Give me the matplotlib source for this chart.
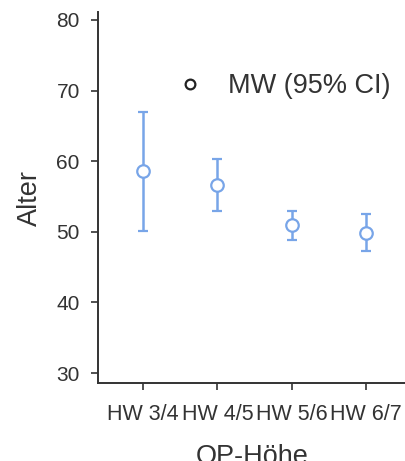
import matplotlib.pyplot as plt
from matplotlib.lines import Line2D

plt.rcParams['font.family'] = ['Liberation Sans', 'DejaVu Sans']

groups = ['HW 3/4', 'HW 4/5', 'HW 5/6', 'HW 6/7']
means = [58.6, 56.6, 50.9, 49.9]
ci_low = [50.1, 53.0, 48.9, 47.3]
ci_high = [67.0, 60.3, 52.9, 52.5]

blue = '#78a5e8'
dark = '#333333'

fig = plt.figure(figsize=(4.06, 4.61), dpi=100)
ax = fig.add_axes([0.241, 0.169, 0.759, 0.805])

x = list(range(len(groups)))
err = [[m - lo for m, lo in zip(means, ci_low)],
       [hi - m for m, hi in zip(means, ci_high)]]
ax.errorbar(x, means, yerr=err, fmt='o', color=blue, ecolor=blue,
            elinewidth=1.8, capsize=3.5, capthick=1.8,
            markersize=9, markerfacecolor='white', markeredgewidth=1.6)

ax.set_xlim(-0.61, 3.54)
ax.set_ylim(28.58, 81.13)
ax.set_xticks(x)
ax.set_xticklabels(groups, fontsize=15.5, color=dark)
ax.set_yticks([30, 40, 50, 60, 70, 80])
ax.tick_params(axis='y', labelsize=15, colors=dark, length=5, width=1.2, pad=8)
ax.tick_params(axis='x', colors=dark, length=5, width=1.2, pad=10)

for s in ['top', 'right']:
    ax.spines[s].set_visible(False)
for s in ['left', 'bottom']:
    ax.spines[s].set_color(dark)
    ax.spines[s].set_linewidth(1.4)

ax.set_ylabel('Alter', fontsize=19.5, color=dark, labelpad=10)
ax.set_xlabel('OP-Höhe', fontsize=19.5, color=dark, labelpad=14)

handle = Line2D([], [], marker='o', linestyle='none', color='#222222',
                markerfacecolor='white', markersize=7, markeredgewidth=1.6)
ax.legend([handle], ['MW (95% CI)'], loc='upper left',
          bbox_to_anchor=(0.132, 0.9), frameon=False, fontsize=19.5,
          labelcolor=dark, handletextpad=0.4)

fig.savefig('out.png', dpi=100)
